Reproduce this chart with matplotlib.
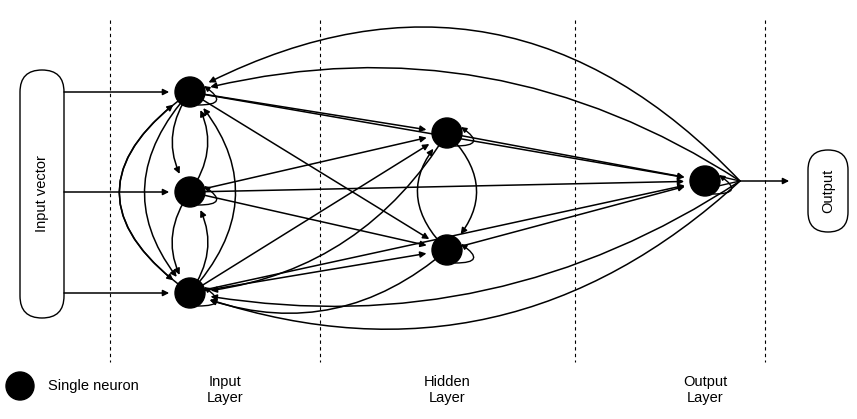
import matplotlib.pyplot as plt
from matplotlib.patches import FancyArrowPatch, FancyBboxPatch, Circle

# node positions (pixel space of the original drawing)
input_nodes = [(190, 92), (190, 192), (190, 293)]
hidden_nodes = [(447, 133), (447, 250)]
output_node = (705, 181)
layer_lines = [110, 320, 575, 765]
layer_labels = ["Input\nLayer", "Hidden\nLayer", "Output\nLayer"]
label_x = [225, 447, 705]

fig = plt.figure(figsize=(8.57, 4.19), dpi=100)
ax = fig.add_axes([0, 0, 1, 1])
ax.set_xlim(0, 857)
ax.set_ylim(419, 0)
ax.axis("off")

R = 15


def arrow(p, q, rad=0.0, lw=1.1):
    a = FancyArrowPatch(p, q, connectionstyle=f"arc3,rad={rad}", arrowstyle="-|>",
                        mutation_scale=9, lw=lw, color="black",
                        shrinkA=0, shrinkB=R, zorder=2)
    ax.add_patch(a)


def loop(c):
    x, y = c
    a = FancyArrowPatch((x + 8, y + 13), (x + 14, y - 6), connectionstyle="arc3,rad=1.6",
                        arrowstyle="-|>", mutation_scale=8, lw=1.0, color="black",
                        shrinkA=0, shrinkB=0, zorder=2)
    ax.add_patch(a)


for x in layer_lines:
    ax.plot([x, x], [20, 362], ls=(0, (3, 3)), color="black", lw=0.8)

# input vector box
ax.add_patch(FancyBboxPatch((20, 70), 44, 248, boxstyle="round,pad=0,rounding_size=22",
                            fc="white", ec="black", lw=1))
ax.text(42, 194, "Input vector", rotation=90, ha="center", va="center", fontsize=10.5,
        family="Liberation Sans")
ax.add_patch(FancyBboxPatch((808, 150), 40, 82, boxstyle="round,pad=0,rounding_size=20",
                            fc="white", ec="black", lw=1))
ax.text(828, 191, "Output", rotation=90, ha="center", va="center", fontsize=10.5,
        family="Liberation Sans")

# inputs into input layer
for (x, y) in input_nodes:
    arrow((64, y), (x, y))

# input -> hidden, input -> output
for p in input_nodes:
    for q in hidden_nodes:
        arrow(p, q)
    arrow(p, output_node)
for p in hidden_nodes:
    arrow(p, output_node)

# lateral connections in input layer
for i, p in enumerate(input_nodes):
    for j, q in enumerate(input_nodes):
        if i != j:
            rad = 0.35 if abs(i - j) == 1 else 0.45
            arrow(p, q, rad=rad)
            if abs(i - j) == 2:
                arrow(p, q, rad=0.7 if i < j else -0.7)

# hidden recurrent
arrow(hidden_nodes[0], hidden_nodes[1], rad=-0.5)
arrow(hidden_nodes[1], hidden_nodes[0], rad=-0.5)
arrow(hidden_nodes[0], input_nodes[2], rad=-0.25)
arrow(hidden_nodes[1], input_nodes[2], rad=-0.3)

# output feedback
tip = (740, 181)
ax.plot([output_node[0], tip[0]], [output_node[1] - 8, tip[1]], color="black", lw=1)
ax.plot([output_node[0], tip[0]], [output_node[1] + 8, tip[1]], color="black", lw=1)
arrow(tip, input_nodes[0], rad=0.38)
arrow(tip, input_nodes[0], rad=0.22)
arrow(tip, input_nodes[2], rad=-0.3)
arrow(tip, input_nodes[2], rad=-0.2)
arrow(tip, (810, 181))

for c in input_nodes + hidden_nodes + [output_node]:
    ax.add_patch(Circle(c, R, color="black", zorder=3))
    loop(c)

# legend and labels
ax.add_patch(Circle((20, 386), 14, color="black"))
ax.text(48, 386, "Single neuron", va="center", fontsize=10.5, family="Liberation Sans")
for x, t in zip(label_x, layer_labels):
    ax.text(x, 390, t, ha="center", va="center", fontsize=10.5, family="Liberation Sans")

fig.savefig("out.png", dpi=100)
